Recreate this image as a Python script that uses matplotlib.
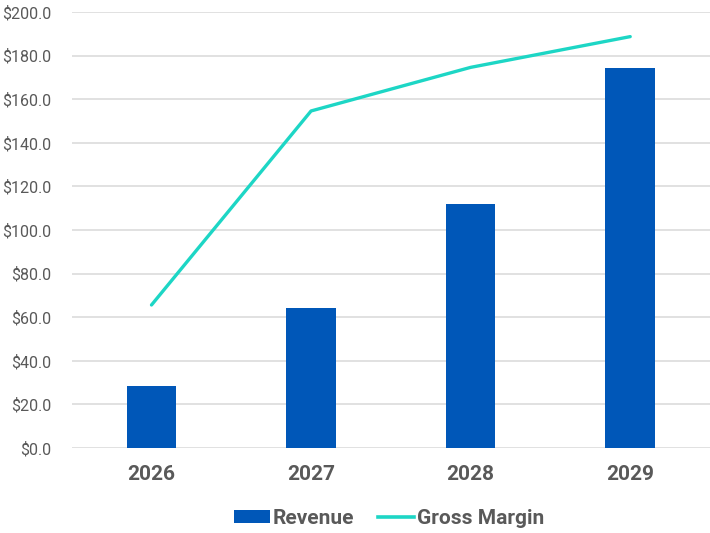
import matplotlib
matplotlib.use("Agg")
import matplotlib.pyplot as plt
from matplotlib.patches import Patch
from matplotlib.lines import Line2D
import numpy as np

years = ["2026", "2027", "2028", "2029"]
revenue = [28.3, 64.0, 112.0, 174.5]
gross_margin = [65.6, 154.6, 174.6, 188.7]
yticks = [0, 20, 40, 60, 80, 100, 120, 140, 160, 180, 200]

plt.rcParams['font.family'] = ['Roboto', 'DejaVu Sans']

fig = plt.figure(figsize=(7.10, 5.33), dpi=100)
ax = fig.add_axes([0.101, 0.1595, 0.899, 0.818])

x = np.arange(len(years))
bar_color = "#0057B8"
line_color = "#1DD6C5"
text_color = "#595959"

ax.bar(x, revenue, width=0.31, color=bar_color, zorder=3)
ax.plot(x, gross_margin, color=line_color, lw=2.4, solid_capstyle='round', zorder=4)

ax.set_xlim(-0.5, 3.5)
ax.set_ylim(0, 200)
ax.set_yticks(yticks)
ax.set_yticklabels([f"${v:.1f}" for v in yticks], fontsize=11.5, color=text_color)
ax.set_xticks(x)
ax.set_xticklabels(years, fontsize=15, fontweight='bold', color=text_color)
ax.tick_params(axis='both', length=0)
ax.tick_params(axis='y', pad=15)
ax.tick_params(axis='x', pad=12)
ax.grid(axis='y', color="#D9D9D9", lw=1.1, zorder=0)
ax.set_axisbelow(True)
for s in ax.spines.values():
    s.set_visible(False)

handles = [Patch(facecolor=bar_color, edgecolor='none'),
           Line2D([0], [0], color=line_color, lw=2.6)]
leg = fig.legend(handles, ["Revenue", "Gross Margin"], loc='center',
                 bbox_to_anchor=(0.548, 0.028), ncol=2, frameon=False,
                 prop={'size': 15, 'weight': 'bold'}, handlelength=1.7,
                 handleheight=0.6, handletextpad=0.15, columnspacing=1.15)
for t in leg.get_texts():
    t.set_color(text_color)

fig.savefig("out.png", dpi=100)
